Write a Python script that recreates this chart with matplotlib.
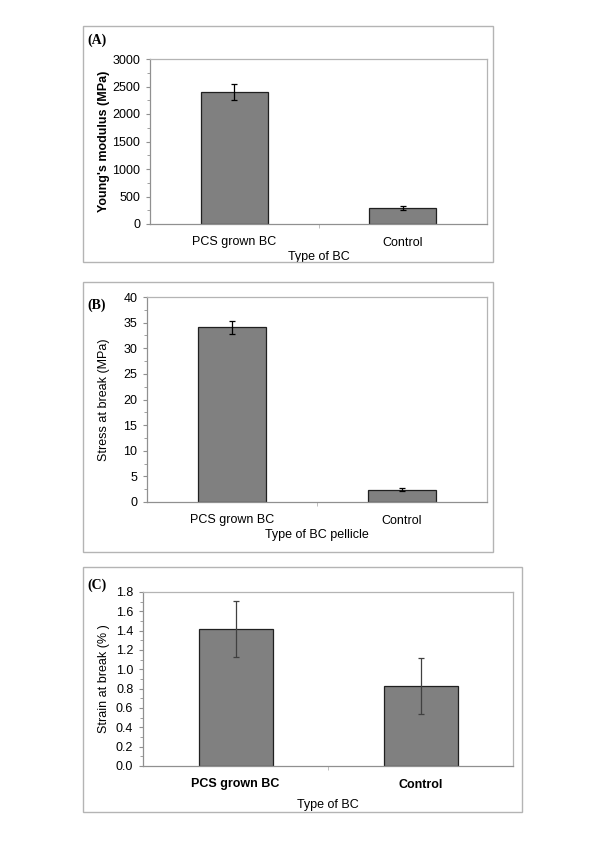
"""
Mechanical properties of PCS-grown BC vs control: three stacked bar panels.
"""

import matplotlib
matplotlib.use("Agg")
import matplotlib.pyplot as plt
from matplotlib.patches import Rectangle
from matplotlib.ticker import MultipleLocator, FormatStrFormatter, FixedLocator

# ---------------------------------------------------------------------------
# Data
# ---------------------------------------------------------------------------
CATEGORIES = ["PCS grown BC", "Control"]

YOUNG = [2400, 290]          # (A) Young's modulus, MPa
YOUNG_ERR = [145, 40]

STRESS = [34.1, 2.4]         # (B) stress at break, MPa
STRESS_ERR = [1.3, 0.3]

STRAIN = [1.42, 0.83]        # (C) strain at break, %
STRAIN_ERR = [0.29, 0.29]

W, H = 600, 849
plt.rcParams["font.family"] = ["Liberation Sans", "DejaVu Sans"]


def fx(px):
    return px / W


def fy(py):
    return 1 - py / H


fig = plt.figure(figsize=(6, 8.49), dpi=100)

# outer frames around each panel (pixel boxes: x0, y0, x1, y1)
for x0, y0, x1, y1 in [(83, 26, 493, 262), (83, 282, 493, 552), (83, 567, 522, 812)]:
    fig.patches.append(Rectangle((fx(x0), fy(y1)), fx(x1 - x0), (y1 - y0) / H,
                                 transform=fig.transFigure, fill=False,
                                 edgecolor="#b4b4b4", linewidth=1.0))


def panel(box, vals, errs, ylim, major, minor, ylabel, xlabel, tag, tag_y,
          ylab_bold=False, xtick_bold=False, err_color="black", fmt=None,
          xlabelpad=2):
    x0, y0, x1, y1 = box
    ax = fig.add_axes([fx(x0), fy(y1), fx(x1 - x0), (y1 - y0) / H])
    pos = range(len(CATEGORIES))
    ax.bar(pos, vals, width=0.4, color="#808080", edgecolor="#202020",
           linewidth=0.9, zorder=2)
    ax.errorbar(pos, vals, yerr=errs, fmt="none", ecolor=err_color,
                elinewidth=0.9, capsize=2.5, capthick=0.9, zorder=3)
    ax.set_xlim(-0.5, 1.5)
    ax.set_ylim(*ylim)
    ax.yaxis.set_major_locator(MultipleLocator(major))
    ax.yaxis.set_minor_locator(MultipleLocator(minor))
    if fmt:
        ax.yaxis.set_major_formatter(FormatStrFormatter(fmt))
    ax.set_xticks(list(pos))
    ax.set_xticklabels(CATEGORIES, fontsize=9,
                       fontweight="bold" if xtick_bold else "normal")
    ax.xaxis.set_minor_locator(FixedLocator([0.5]))
    ax.tick_params(axis="x", which="major", length=0, pad=9)
    ax.tick_params(axis="x", which="minor", length=3, color="#b4b4b4")
    ax.tick_params(axis="y", which="both", direction="out", color="#909090",
                   labelsize=9, pad=4)
    ax.tick_params(axis="y", which="major", length=3)
    ax.tick_params(axis="y", which="minor", length=2.5)
    for side in ("top", "right"):
        ax.spines[side].set_color("#b4b4b4")
    for side in ("left", "bottom"):
        ax.spines[side].set_color("#909090")
    for sp in ax.spines.values():
        sp.set_linewidth(0.9)
    ax.set_ylabel(ylabel, fontsize=9,
                  fontweight="bold" if ylab_bold else "normal")
    ax.yaxis.set_label_coords(fx(110), (fy(y0) + fy(y1)) / 2,
                              transform=fig.transFigure)
    ax.set_xlabel(xlabel, fontsize=9, labelpad=xlabelpad)
    fig.text(fx(87), fy(tag_y), tag, family=["Liberation Serif", "DejaVu Serif"],
             fontweight="bold", fontsize=10, ha="left", va="center")
    return ax


panel((150, 59, 487, 224), YOUNG, YOUNG_ERR, (0, 3000), 500, 250,
      "Young's modulus (MPa)", "Type of BC", "(A)", 40, ylab_bold=True)

panel((147, 297, 487, 502), STRESS, STRESS_ERR, (0, 40), 5, 2.5,
      "Stress at break (MPa)", "Type of BC pellicle", "(B)", 305)

panel((143, 592, 513, 766), STRAIN, STRAIN_ERR, (0, 1.8), 0.2, 0.1,
      "Strain at break (% )", "Type of BC", "(C)", 585,
      xtick_bold=True, err_color="#404040", fmt="%.1f", xlabelpad=6)

fig.savefig("out.png", dpi=100)
